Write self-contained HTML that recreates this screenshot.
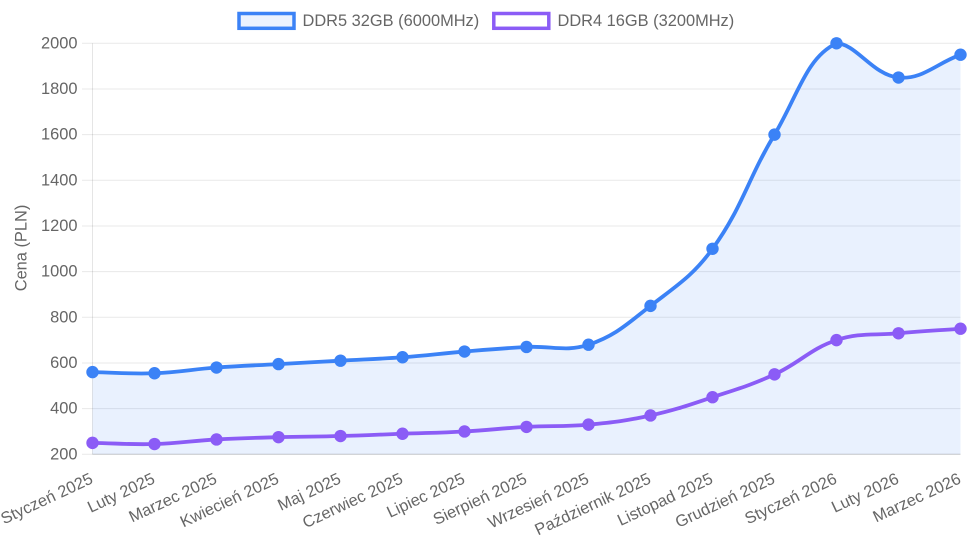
<!DOCTYPE html>
<html><head><meta charset="utf-8"><style>
html,body{margin:0;padding:0;background:#fff;}
svg{display:block;font-family:"Liberation Sans",Arial,sans-serif;}
</style></head><body>
<svg id="c" width="974" height="550" viewBox="0 0 974 550" xmlns="http://www.w3.org/2000/svg">
<g id="grid"></g>
<g id="fill"></g>
<g id="lines"></g>
<g id="yt" font-size="16.4" fill="#666" text-anchor="end"></g>
<g id="xt" font-size="16.4" fill="#666" text-anchor="end"></g>
<text x="21.5" y="248" font-size="16.4" fill="#666" text-anchor="middle" dominant-baseline="central" transform="rotate(-90 21.5 248)">Cena (PLN)</text>
<rect x="239" y="13.5" width="55" height="14.8" fill="rgba(59,130,246,0.1)" stroke="#3b82f6" stroke-width="3.5"/>
<text x="302.5" y="21" font-size="16.4" fill="#666" dominant-baseline="central">DDR5 32GB (6000MHz)</text>
<rect x="493.8" y="13.5" width="55" height="14.8" fill="#fff" stroke="#8b5cf6" stroke-width="3.5"/>
<text x="557.5" y="21" font-size="16.4" fill="#666" dominant-baseline="central">DDR4 16GB (3200MHz)</text>
</svg>
<script>
(function(){
var NS="http://www.w3.org/2000/svg";
var L=92.5,R=960.5,T=43.3,B=454.3;
var labels=["Styczeń 2025","Luty 2025","Marzec 2025","Kwiecień 2025","Maj 2025","Czerwiec 2025","Lipiec 2025","Sierpień 2025","Wrzesień 2025","Październik 2025","Listopad 2025","Grudzień 2025","Styczeń 2026","Luty 2026","Marzec 2026"];
var d5=[560,555,580,595,610,625,650,670,680,850,1100,1600,2000,1850,1950];
var d4=[250,245,265,275,280,290,300,320,330,370,450,550,700,730,750];
function X(i){return L+i*(R-L)/14;}
function Y(v){return B-(v-200)/1800*(B-T);}
function el(tag,attrs,parent,txt){var e=document.createElementNS(NS,tag);for(var k in attrs)e.setAttribute(k,attrs[k]);if(txt!=null)e.textContent=txt;parent.appendChild(e);return e;}
var grid=document.getElementById("grid"),yt=document.getElementById("yt"),xt=document.getElementById("xt");
for(var v=200;v<=2000;v+=200){var y=Y(v);
 el("line",{x1:82,x2:R,y1:y,y2:y,stroke:"rgba(0,0,0,0.09)","stroke-width":1},grid);
 el("text",{x:77.5,y:y,"dominant-baseline":"central"},yt,String(v));}
el("line",{x1:L,x2:L,y1:T,y2:B,stroke:"rgba(0,0,0,0.1)","stroke-width":1},grid);
for(var i=0;i<labels.length;i++){var x=X(i)-0.6,y0=478;
 el("text",{x:x,y:y0,"dominant-baseline":"central",transform:"rotate(-25 "+x+" "+y0+")"},xt,labels[i]);}
function clamp(a,lo,hi){return Math.max(lo,Math.min(hi,a));}
function path(data){
 var p=data.map(function(v,i){return {x:X(i),y:Y(v)};});
 var t=0.4;
 for(var i=0;i<p.length;i++){
  var pr=p[i-1]||p[i],cu=p[i],nx=p[i+1]||p[i];
  var d01=Math.hypot(cu.x-pr.x,cu.y-pr.y),d12=Math.hypot(nx.x-cu.x,nx.y-cu.y);
  var s01=d01/(d01+d12),s12=d12/(d01+d12);
  if(isNaN(s01))s01=0;if(isNaN(s12))s12=0;
  var fa=t*s01,fb=t*s12;
  cu.px=clamp(cu.x-fa*(nx.x-pr.x),L,R);cu.py=clamp(cu.y-fa*(nx.y-pr.y),T,B);
  cu.nx=clamp(cu.x+fb*(nx.x-pr.x),L,R);cu.ny=clamp(cu.y+fb*(nx.y-pr.y),T,B);
 }
 var d="M"+p[0].x+","+p[0].y;
 for(var j=1;j<p.length;j++){d+=" C"+p[j-1].nx+","+p[j-1].ny+" "+p[j].px+","+p[j].py+" "+p[j].x+","+p[j].y;}
 return {d:d,p:p};
}
var fillG=document.getElementById("fill"),lines=document.getElementById("lines");
var a=path(d5),b=path(d4);
el("path",{d:a.d+" L"+R+","+B+" L"+L+","+B+" Z",fill:"rgba(59,130,246,0.11)",stroke:"none"},fillG);
el("line",{x1:L,x2:R,y1:B,y2:B,stroke:"rgba(0,0,0,0.13)","stroke-width":1},fillG);
el("path",{d:b.d,fill:"none",stroke:"#8b5cf6","stroke-width":3.8,"stroke-linejoin":"round"},lines);
b.p.forEach(function(q){el("circle",{cx:q.x,cy:q.y,r:6.2,fill:"#8b5cf6"},lines);});
el("path",{d:a.d,fill:"none",stroke:"#3b82f6","stroke-width":3.8,"stroke-linejoin":"round"},lines);
a.p.forEach(function(q){el("circle",{cx:q.x,cy:q.y,r:6.2,fill:"#3b82f6"},lines);});
})();
</script>
</body></html>
